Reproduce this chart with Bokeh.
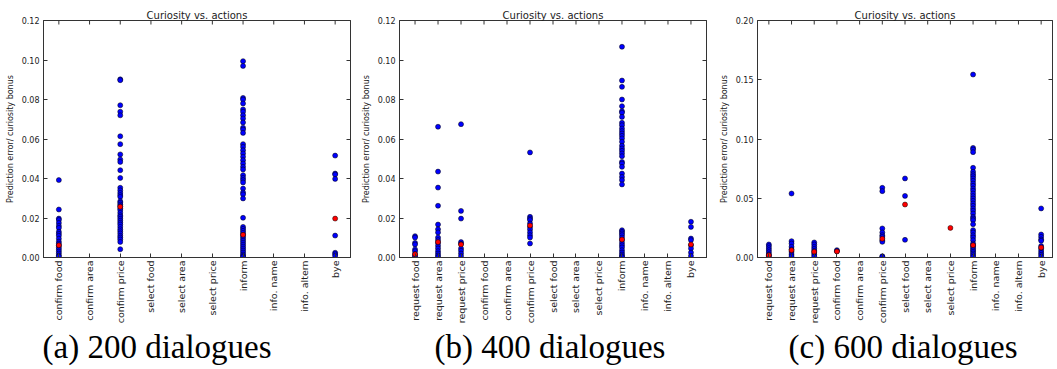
import math
from bokeh.plotting import figure
from bokeh.layouts import row
from bokeh.models import (FactorRange, Range1d, LinearAxis, Title,
                          SingleIntervalTicker, NumeralTickFormatter, CustomLabelingPolicy)
from bokeh.embed import file_html
from bokeh.resources import INLINE

# ---------------- data ----------------
cats_a = ["confirm food", "confirm area", "confirm price", "select food", "select area",
          "select price", "inform", "info. name", "info. altern", "bye"]
cats_bc = ["request food", "request area", "request price", "confirm food", "confirm area",
           "confirm price", "select food", "select area", "select price", "inform",
           "info. name", "info. altern", "bye"]

# (a) 200 dialogues
a_confirm_food = [0.0392, 0.0243, 0.0197, 0.0190, 0.0175, 0.0160, 0.0150, 0.0130, 0.0120, 0.0110,
                  0.0095, 0.0080, 0.0070, 0.0060, 0.0050, 0.0040, 0.0030, 0.0020, 0.0010, 0.0005]
a_confirm_price = [0.0902, 0.0898, 0.0771, 0.0738, 0.0720, 0.0614, 0.0574, 0.0522, 0.0496, 0.0484,
                   0.0442, 0.0403, 0.0353, 0.0340, 0.0327, 0.0316, 0.0307, 0.0285, 0.0277, 0.0268,
                   0.0260, 0.0248, 0.0240, 0.0226, 0.0214, 0.0206, 0.0196, 0.0186, 0.0176, 0.0167,
                   0.0155, 0.0143, 0.0133, 0.0122, 0.0110, 0.0101, 0.0091, 0.0079, 0.0042]
a_inform = [0.0994, 0.0970, 0.0808, 0.0800, 0.0780, 0.0750, 0.0738, 0.0720, 0.0704, 0.0684,
            0.0657, 0.0648, 0.0631, 0.0574, 0.0560, 0.0543, 0.0527, 0.0510, 0.0493, 0.0476,
            0.0459, 0.0446, 0.0417, 0.0403, 0.0392, 0.0380, 0.0349, 0.0329, 0.0320, 0.0299,
            0.0201, 0.0155, 0.0145, 0.0135, 0.0125, 0.0115, 0.0105, 0.0095, 0.0085, 0.0075,
            0.0065, 0.0055, 0.0045, 0.0035, 0.0025, 0.0015, 0.0008, 0.0003]
a_bye = [0.0516, 0.0425, 0.0420, 0.0398, 0.0111, 0.0024, 0.0017, 0.0008]
a_mean_cats = ["confirm food", "confirm price", "inform", "bye"]
a_mean_vals = [0.0062, 0.0257, 0.0115, 0.0197]

# (b) 400 dialogues
b_request_food = [0.0108, 0.0101, 0.0074, 0.0066, 0.0041, 0.0032, 0.0017, 0.0007, 0.0002]
b_request_area = [0.0662, 0.0435, 0.0354, 0.0262, 0.0167, 0.0143, 0.0127, 0.0101, 0.0088, 0.0074,
                  0.0059, 0.0046, 0.0032, 0.0020, 0.0010, 0.0002]
b_request_price = [0.0675, 0.0236, 0.0197, 0.0078, 0.0069, 0.0046, 0.0034, 0.0020, 0.0007]
b_confirm_price = [0.0532, 0.0206, 0.0197, 0.0190, 0.0172, 0.0155, 0.0142, 0.0127, 0.0113, 0.0101,
                   0.0071]
b_inform = [0.1067, 0.0896, 0.0864, 0.0800, 0.0766, 0.0741, 0.0733, 0.0712, 0.0682, 0.0670,
            0.0653, 0.0640, 0.0628, 0.0616, 0.0603, 0.0586, 0.0566, 0.0552, 0.0540, 0.0527,
            0.0513, 0.0484, 0.0476, 0.0459, 0.0425, 0.0408, 0.0392, 0.0370, 0.0138, 0.0130,
            0.0122, 0.0113, 0.0101, 0.0088, 0.0074, 0.0062, 0.0051, 0.0037, 0.0025, 0.0015,
            0.0007, 0.0002]
b_bye = [0.0181, 0.0155, 0.0096, 0.0088, 0.0062, 0.0046, 0.0025, 0.0008]
b_mean_cats = ["request food", "request area", "request price", "confirm price", "inform", "bye"]
b_mean_vals = [0.0017, 0.0078, 0.0066, 0.0162, 0.0091, 0.0066]

# (c) 600 dialogues
c_request_food = [0.0110, 0.0096, 0.0079, 0.0062, 0.0045, 0.0028, 0.0017, 0.0006]
c_request_area = [0.0540, 0.0138, 0.0118, 0.0090, 0.0068, 0.0048, 0.0028, 0.0011]
c_request_price = [0.0127, 0.0110, 0.0090, 0.0073, 0.0056, 0.0039, 0.0023, 0.0008]
c_confirm_food = [0.0062, 0.0053]
c_confirm_price = [0.0588, 0.0560, 0.0245, 0.0211, 0.0188, 0.0174, 0.0146, 0.0132, 0.0011, 0.0006]
c_select_food = [0.0667, 0.0520, 0.0149]
c_inform = [0.1544, 0.0925, 0.0911, 0.0889, 0.0757, 0.0723, 0.0703, 0.0686, 0.0667, 0.0647,
            0.0624, 0.0605, 0.0582, 0.0563, 0.0540, 0.0518, 0.0498, 0.0478, 0.0456, 0.0436,
            0.0414, 0.0394, 0.0371, 0.0343, 0.0329, 0.0315, 0.0281, 0.0231, 0.0211, 0.0188,
            0.0169, 0.0146, 0.0118, 0.0104, 0.0090, 0.0076, 0.0062, 0.0048, 0.0034, 0.0020,
            0.0006]
c_bye = [0.0414, 0.0194, 0.0174, 0.0152, 0.0141, 0.0096, 0.0076, 0.0056, 0.0039, 0.0023, 0.0006]
c_mean_cats = ["request food", "request area", "request price", "confirm food", "confirm price",
               "select food", "select price", "inform", "bye"]
c_mean_vals = [0.0020, 0.0062, 0.0048, 0.0051, 0.0158, 0.0447, 0.0250, 0.0104, 0.0084]

title_text = "Curiosity vs. actions"
ylabel_text = "Prediction error/ curiosity bonus"
captions = ["(a) 200 dialogues", "(b) 400 dialogues", "(c) 600 dialogues"]

FONT = "DejaVu Sans"
AX = "#333333"
TXT = "#222222"

NO_LABELS = "const n = indices.size; for (let i = 0; i < n; i++) { indices.unset(i) } return indices"


def flatten(groups):
    xs, ys = [], []
    for cat, vals in groups:
        xs += [cat] * len(vals)
        ys += vals
    return xs, ys


def panel(cats, groups, mean_cats, mean_vals, ymax, step, caption,
          width, left, right, pad, cap_offset):
    xr = FactorRange(*cats, range_padding=pad, range_padding_units="percent")
    p = figure(x_range=xr, y_range=Range1d(0, ymax), width=width, height=369,
               output_backend="svg", toolbar_location=None,
               min_border_left=left, min_border_right=right,
               min_border_top=20, min_border_bottom=112)
    p.xgrid.visible = False
    p.ygrid.visible = False
    p.outline_line_color = AX
    p.background_fill_color = "white"
    p.border_fill_color = "white"

    p.title.text = title_text
    p.title.align = "center"
    p.title.vertical_align = "bottom"
    p.title.text_font = FONT
    p.title.text_font_size = "10px"
    p.title.text_font_style = "normal"
    p.title.text_color = TXT
    p.title.standoff = 0

    p.add_layout(LinearAxis(major_label_policy=CustomLabelingPolicy(code=NO_LABELS),
                            major_label_standoff=0, major_label_text_font_size="1px"),
                 "right")

    for ax in p.xaxis:
        ax.major_tick_in = 4
        ax.major_tick_out = 0
        ax.axis_line_color = AX
        ax.major_tick_line_color = AX
        ax.major_label_text_font = FONT
        ax.major_label_text_color = TXT
    for ax in p.yaxis:
        ax.ticker = SingleIntervalTicker(interval=step, num_minor_ticks=0)
        ax.formatter = NumeralTickFormatter(format="0.00")
        ax.major_tick_in = 4
        ax.major_tick_out = 0
        ax.minor_tick_in = 0
        ax.minor_tick_out = 0
        ax.axis_line_color = AX
        ax.major_tick_line_color = AX
        ax.major_label_text_font = FONT
        ax.major_label_text_color = TXT

    bx = p.below[0]
    bx.major_label_orientation = math.pi / 2
    bx.major_label_text_font_size = "9.5px"
    bx.major_label_standoff = 3

    ly = p.left[0]
    ly.major_label_text_font_size = "8px"
    ly.major_label_standoff = 4
    ly.axis_label = ylabel_text
    ly.axis_label_text_font = FONT
    ly.axis_label_text_font_size = "8px"
    ly.axis_label_text_font_style = "normal"
    ly.axis_label_standoff = 4
    ly.axis_label_text_color = TXT

    # inward tick marks on the top edge, one per category (clipped to the frame)
    p.scatter(cats, [ymax] * len(cats), marker="dash", angle=math.pi / 2, size=8,
              line_color=AX, line_width=1)

    xs, ys = flatten(groups)
    p.scatter(xs, ys, size=5, fill_color="#0000ff", line_color="black", line_width=0.5)
    p.scatter(mean_cats, mean_vals, size=5, fill_color="#ff0000", line_color="black",
              line_width=0.5)

    p.add_layout(Title(text=caption, align="left", offset=cap_offset, standoff=0,
                       text_font="Liberation Serif", text_font_size="33px",
                       text_font_style="normal", text_color="black"), "below")
    return p


groups_a = [("confirm food", a_confirm_food), ("confirm price", a_confirm_price),
            ("inform", a_inform), ("bye", a_bye)]
groups_b = [("request food", b_request_food), ("request area", b_request_area),
            ("request price", b_request_price), ("confirm price", b_confirm_price),
            ("inform", b_inform), ("bye", b_bye)]
groups_c = [("request food", c_request_food), ("request area", c_request_area),
            ("request price", c_request_price), ("confirm food", c_confirm_food),
            ("confirm price", c_confirm_price), ("select food", c_select_food),
            ("inform", c_inform), ("bye", c_bye)]

p1 = panel(cats_a, groups_a, a_mean_cats, a_mean_vals, 0.12, 0.02, captions[0],
           357, 43, 7, 0.0, -1)
p2 = panel(cats_bc, groups_b, b_mean_cats, b_mean_vals, 0.12, 0.02, captions[1],
           356, 42, 7, 0.027, 35)
p3 = panel(cats_bc, groups_c, c_mean_cats, c_mean_vals, 0.20, 0.05, captions[2],
           344, 44, 0, 0.0, 31)

layout = row(p1, p2, p3, spacing=0)
open("out.html", "w").write(file_html(layout, INLINE))
